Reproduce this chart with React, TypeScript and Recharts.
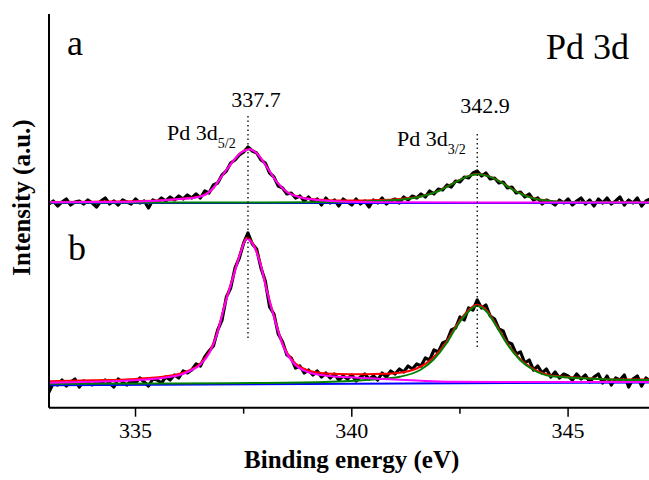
import React from "react";
import { LineChart, Line, XAxis, YAxis, ReferenceLine } from "recharts";

// Binding energy grid of the measured spectra (eV)
const E_START = 333;
const E_STEP = 0.1;
const E_COUNT = 141;
const energies: number[] = Array.from({ length: E_COUNT }, (_, i) => +(E_START + i * E_STEP).toFixed(1));

// Measured intensity, spectrum a (upper trace), arbitrary units
const blackA: number[] = [
  200, 203, 198, 202, 205, 199, 202, 203, 200, 204,
  201, 197, 203, 206, 200, 203, 199, 204, 202, 200,
  205, 201, 203, 196, 204, 202, 206, 203, 207, 204,
  208, 205, 209, 206, 210, 206, 213, 211, 219, 221,
  229, 233, 241, 244, 249, 252, 257, 253, 251, 244,
  241, 231, 227, 218, 216, 210, 211, 206, 208, 203,
  207, 202, 205, 199, 206, 201, 204, 198, 205, 202,
  199, 205, 200, 203, 197, 204, 201, 206, 200, 203,
  205, 201, 207, 204, 208, 206, 210, 207, 213, 210,
  215, 214, 219, 217, 223, 222, 227, 226, 231, 233,
  228, 231, 225, 226, 221, 222, 216, 217, 211, 212,
  207, 210, 204, 206, 200, 204, 202, 199, 204, 201,
  205, 199, 203, 206, 200, 204, 198, 205, 201, 206,
  200, 203, 207, 199, 204, 201, 206, 198, 203, 205,
  201,
];

// Measured intensity, spectrum b (lower trace)
const blackB: number[] = [
  12, 21, 19, 24, 18, 22, 25, 17, 23, 21,
  19, 22, 20, 24, 21, 17, 25, 22, 19, 23,
  21, 26, 22, 18, 25, 24, 21, 27, 24, 29,
  26, 33, 31, 34, 40, 38, 47, 53, 58, 74,
  84, 107, 116, 136, 146, 161, 171, 160, 155, 136,
  123, 97, 90, 70, 62, 49, 46, 36, 38, 31,
  34, 29, 33, 27, 31, 26, 30, 24, 28, 25,
  29, 23, 27, 30, 25, 28, 24, 31, 27, 33,
  30, 35, 32, 38, 35, 40, 38, 46, 44, 54,
  52, 61, 63, 74, 76, 87, 84, 96, 94, 104,
  96, 99, 88, 85, 75, 73, 62, 60, 50, 52,
  41, 44, 34, 38, 31, 35, 27, 32, 26, 30,
  28, 24, 30, 25, 29, 22, 27, 30, 21, 28,
  19, 26, 24, 29, 17, 25, 28, 18, 26, 23,
  27,
];

// Fitted curves, [energy, intensity]
const magentaA: number[][] = [
  [333, 201.7], [334, 202], [334.95, 202.3], [335.5, 203.2], [335.95, 204.7], [336.49, 207.3],
  [336.8, 216], [336.95, 225], [337.1, 234], [337.26, 243], [337.4, 250], [337.5, 252.8],
  [337.63, 254.7], [337.8, 250.7], [338.03, 237.3], [338.26, 222.3], [338.49, 212.3],
  [338.8, 206.7], [339.19, 204], [339.96, 202.3], [341, 201.8], [343, 201.6], [347, 201.5],
];
const greenA: number[][] = [
  [333, 201.5], [338, 201.6], [340, 202], [340.5, 203], [341.11, 204.3], [341.58, 207.2],
  [341.96, 212.2], [342.35, 220.7], [342.66, 227.2], [342.9, 229.8], [343.15, 227.9],
  [343.43, 222.2], [343.81, 212.2], [344.2, 205.6], [344.58, 203], [344.97, 202], [346, 201.6], [347, 201.5],
];
const redA: number[][] = [
  [333, 202], [334, 202.3], [335, 202.8], [335.5, 203.5], [336, 205], [336.5, 207.8], [336.8, 216],
  [336.95, 225], [337.1, 234], [337.26, 243], [337.4, 250], [337.5, 253], [337.63, 255], [337.8, 251],
  [338.03, 237.5], [338.26, 222.5], [338.49, 212.5], [338.8, 207], [339.19, 204.5], [339.6, 203.6],
  [340, 203.5], [340.5, 203.8], [341.11, 205], [341.58, 207.6], [341.96, 212.4], [342.35, 220.9],
  [342.66, 227.4], [342.9, 230.1], [343.15, 228.1], [343.43, 222.4], [343.81, 212.4], [344.2, 205.8],
  [344.58, 203.1], [344.97, 202.1], [346, 201.6], [347, 201.5],
];
const blueA: number[][] = [[333, 201], [347, 201]];

const magentaB: number[][] = [
  [333, 21.3], [334, 22.3], [335, 23.8], [335.33, 24.7], [335.7, 26.5], [336.1, 30], [336.3, 34],
  [336.49, 39], [336.72, 52], [336.88, 69], [337.07, 100], [337.26, 127], [337.42, 150], [337.57, 165],
  [337.72, 159], [337.88, 141], [338.03, 114], [338.22, 84], [338.42, 57], [338.65, 41], [338.96, 32.3],
  [339.42, 28.3], [339.96, 26.7], [340.72, 25], [341.5, 23.5], [342.27, 22.3], [343.5, 22], [345, 22], [347, 22],
];
const greenB: number[][] = [
  [333, 20.3], [336, 20.6], [338, 21], [339.5, 22.2], [340.5, 24.5], [341.11, 27.3], [341.58, 34],
  [341.88, 44], [342.19, 60.7], [342.42, 77.3], [342.66, 90.7], [342.89, 98], [343.12, 92.3],
  [343.35, 77.3], [343.58, 60.7], [343.89, 44], [344.2, 34], [344.58, 28], [345.35, 25.7], [346.12, 24.3], [347, 24],
];
const redB: number[][] = [
  [333, 22.8], [334, 23.7], [335, 25.1], [335.7, 27.8], [336.1, 31.3], [336.49, 40.2], [336.72, 53.2],
  [336.88, 70.2], [337.07, 101.2], [337.26, 128.2], [337.42, 151.2], [337.57, 166.2], [337.72, 160.2],
  [337.88, 142.2], [338.03, 115.2], [338.22, 85.2], [338.42, 58.4], [338.65, 42.5], [338.96, 34.1],
  [339.42, 30.5], [339.96, 29.7], [340.72, 30.2], [341.11, 31.3], [341.5, 35.5], [341.88, 46.3],
  [342.19, 62.5], [342.42, 78.8], [342.66, 92.1], [342.89, 99.2], [343.12, 93.5], [343.35, 78.4],
  [343.58, 61.8], [343.89, 45], [344.2, 34.9], [344.58, 28.8], [345.35, 26.1], [346.12, 24.5], [347, 24.4],
];
const blueB: number[][] = [[333, 18.8], [340, 20.2], [347, 21.6]];

// Peak positions (dotted markers)
const peakMarks = [
  { e: 337.6, from: 66, to: 289 },
  { e: 342.9, from: 57, to: 271 },
];

const xDomain = [333, 347];
const xTicks = [335, 337.5, 340, 342.5, 345];
const yDomain = [-3.7, 390];
const yTicks = [0, 21.2, 42.4, 63.6, 84.8, 106, 127.2, 148.4, 169.6, 190.8, 212, 233.2, 254.4, 275.6, 296.8, 318, 339.2, 360.4, 381.6];

const toRows = (vals: number[]) => vals.map((v, i) => ({ e: energies[i], v }));
const toPts = (pts: number[][]) => pts.map(([e, v]) => ({ e, v }));

const FONT = '"Liberation Serif", "DejaVu Serif", "Times New Roman", serif';
const serif = { fontFamily: FONT };

const BottomTick = (props: any) => {
  const { x, y, payload } = props;
  const val = payload.value;
  const major = Number.isInteger(val);
  return (
    <g>
      <line x1={x} x2={x} y1={y} y2={y + (major ? 9 : 6)} stroke="#000" strokeWidth={1.5} />
      {major && (
        <text x={x} y={y + 30.6} textAnchor="middle" fontSize={22} style={serif} fill="#000">
          {val}
        </text>
      )}
    </g>
  );
};

const dataLine = { strokeWidth: 3.2, strokeLinejoin: "round" as const, strokeLinecap: "round" as const };

export default function App() {
  const W = 660;
  const H = 472;
  return (
    <div style={{ position: "absolute", left: 8, top: 8, width: 641, height: 472, overflow: "hidden", background: "#fff", fontFamily: FONT }}>
      <LineChart width={W} height={H} margin={{ top: 6, right: 13.4, left: 41, bottom: 32.3 }}>
        <XAxis
          type="number"
          dataKey="e"
          domain={xDomain}
          allowDataOverflow
          ticks={xTicks}
          interval={0}
          height={40}
          tickSize={0}
          tickMargin={0}
          tickLine={false}
          axisLine={{ stroke: "#000", strokeWidth: 2 }}
          tick={<BottomTick />}
        />
        <XAxis
          xAxisId="top"
          orientation="top"
          mirror
          type="number"
          dataKey="e"
          domain={xDomain}
          allowDataOverflow
          ticks={xTicks}
          interval={0}
          height={0}
          tickSize={3}
          tick={false}
          tickLine={{ stroke: "#000", strokeWidth: 1.5 }}
          axisLine={{ stroke: "#000", strokeWidth: 2 }}
        />
        <YAxis
          type="number"
          domain={yDomain}
          allowDataOverflow
          ticks={yTicks}
          interval={0}
          mirror
          tick={false}
          tickSize={4}
          tickLine={{ stroke: "#000", strokeWidth: 1.5 }}
          axisLine={{ stroke: "#000", strokeWidth: 2 }}
        />
        <Line data={toRows(blackA)} dataKey="v" type="linear" stroke="#000" {...dataLine} dot={false} isAnimationActive={false} />
        <Line data={toRows(blackB)} dataKey="v" type="linear" stroke="#000" {...dataLine} dot={false} isAnimationActive={false} />
        <Line data={toPts(redA)} dataKey="v" type="monotone" stroke="#ff0000" strokeWidth={2} dot={false} isAnimationActive={false} />
        <Line data={toPts(redB)} dataKey="v" type="monotone" stroke="#ff0000" strokeWidth={2} dot={false} isAnimationActive={false} />
        <Line data={toPts(blueA)} dataKey="v" type="linear" stroke="#0000ff" strokeWidth={2} dot={false} isAnimationActive={false} />
        <Line data={toPts(blueB)} dataKey="v" type="linear" stroke="#0000ff" strokeWidth={2} dot={false} isAnimationActive={false} />
        <Line data={toPts(greenA)} dataKey="v" type="monotone" stroke="#008000" strokeWidth={2} dot={false} isAnimationActive={false} />
        <Line data={toPts(greenB)} dataKey="v" type="monotone" stroke="#008000" strokeWidth={2} dot={false} isAnimationActive={false} />
        <Line data={toPts(magentaA)} dataKey="v" type="monotone" stroke="#ff00ff" strokeWidth={2} dot={false} isAnimationActive={false} />
        <Line data={toPts(magentaB)} dataKey="v" type="monotone" stroke="#ff00ff" strokeWidth={2} dot={false} isAnimationActive={false} />
        {peakMarks.map((m) => (
          <ReferenceLine
            key={m.e}
            segment={[{ x: m.e, y: m.from }, { x: m.e, y: m.to }]}
            stroke="#000"
            strokeWidth={1.3}
            strokeDasharray="1.5 3"
          />
        ))}
      </LineChart>
      <svg width={W} height={H} style={{ position: "absolute", left: 0, top: 0, pointerEvents: "none" }}>
        <g style={serif} fill="#000">
          <text x={59} y={47} fontSize={36} style={serif}>a</text>
          <text x={60} y={252} fontSize={36} style={serif}>b</text>
          <text x={538} y={51} fontSize={36} style={serif}>Pd 3d</text>
          <text x={248} y={99} fontSize={22} textAnchor="middle" style={serif}>337.7</text>
          <text x={477} y={105} fontSize={22} textAnchor="middle" style={serif}>342.9</text>
          <text x={159} y={132} fontSize={22} style={serif}>
            Pd 3d<tspan fontSize={14} dy={8}>5/2</tspan>
          </text>
          <text x={389} y={138} fontSize={22} style={serif}>
            Pd 3d<tspan fontSize={14} dy={8}>3/2</tspan>
          </text>
          <text x={343.7} y={460} fontSize={25} fontWeight="bold" textAnchor="middle" style={serif}>Binding energy (eV)</text>
          <text x={22} y={189.5} fontSize={25} fontWeight="bold" textAnchor="middle" transform="rotate(-90, 22, 189.5)" style={serif}>
            Intensity (a.u.)
          </text>
        </g>
      </svg>
    </div>
  );
}
